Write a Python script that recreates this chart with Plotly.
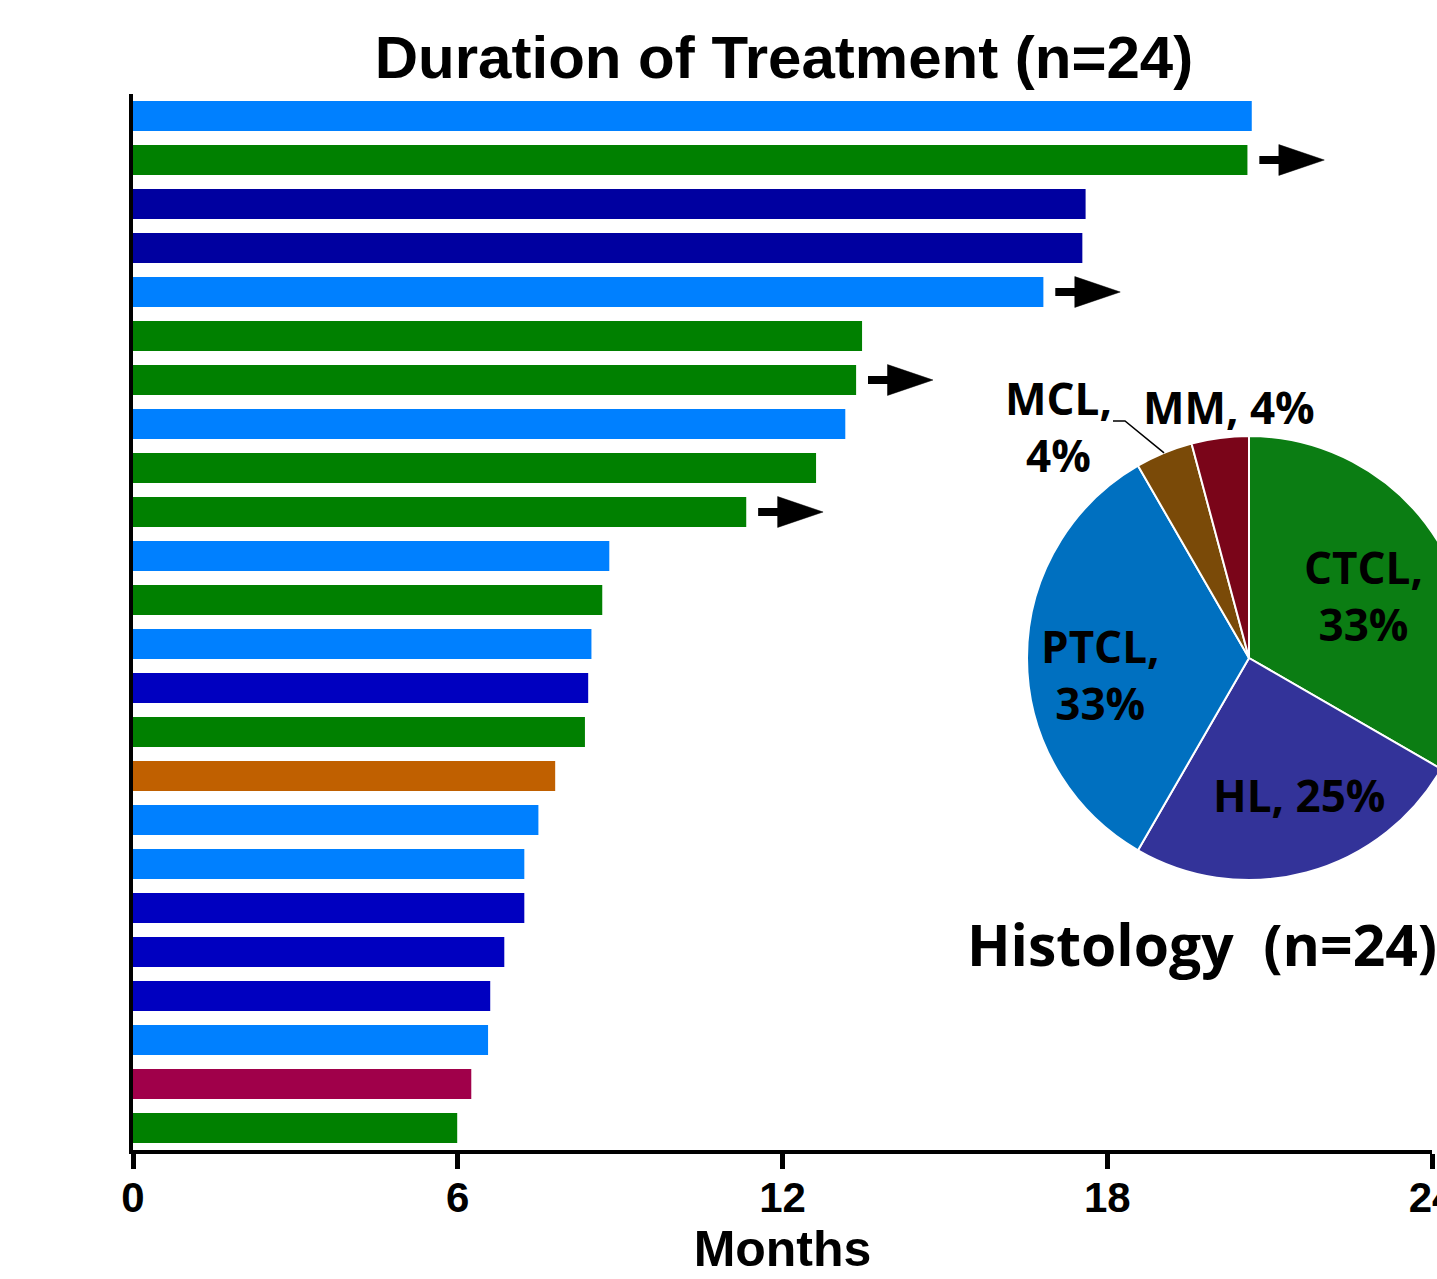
import math
import plotly.graph_objects as go

# ---------------- data ----------------
months = [20.67, 20.59, 17.60, 17.54, 16.82, 13.47, 13.36, 13.16, 12.62, 11.33,
          8.80, 8.67, 8.47, 8.41, 8.35, 7.80, 7.49, 7.23, 7.23, 6.86,
          6.60, 6.56, 6.25, 5.99]
histology = ["PTCL", "CTCL", "HL", "HL", "PTCL", "CTCL", "CTCL", "PTCL", "CTCL", "CTCL",
             "PTCL", "CTCL", "PTCL", "HL", "CTCL", "MCL", "PTCL", "PTCL", "HL", "HL",
             "HL", "PTCL", "MM", "CTCL"]
ongoing = [False, True, False, False, True, False, True, False, False, True,
           False, False, False, False, False, False, False, False, False, False,
           False, False, False, False]
bar_colors = ["#0080FF", "#008000", "#0000A0", "#0000A0", "#0080FF", "#008000", "#008000",
              "#0080FF", "#008000", "#008000", "#0080FF", "#008000", "#0080FF", "#0000C0",
              "#008000", "#C06000", "#0080FF", "#0080FF", "#0000C0", "#0000C0", "#0000C0",
              "#0080FF", "#A0004A", "#008000"]

pie_labels = ["CTCL", "HL", "PTCL", "MCL", "MM"]
pie_values = [8, 6, 8, 1, 1]
pie_colors = ["#0B7D13", "#333399", "#0070C0", "#7A4A08", "#7A0519"]
pie_pct = ["33%", "25%", "33%", "4%", "4%"]
pie_sep = ",<br>", ", ", ",<br>", ",<br>", ", "

x_ticks = [0, 6, 12, 18, 24]

# ---------------- layout constants ----------------
W, H = 1480, 1279
ML, MR, MT, MB = 133, 0, 94, 129
PW = W - ML - MR
PH = H - MT - MB
X_END_PX = 1432  # pixel where 24 months sits


def px_x(p):
    return (p - ML) / PW


def px_y(p):
    return (H - MB - p) / PH


idx = list(range(len(months)))

fig = go.Figure()

fig.add_trace(go.Bar(
    x=months, y=idx, orientation="h", width=0.68,
    marker=dict(color=bar_colors, line=dict(width=0)),
    customdata=histology, hovertemplate="%{customdata}: %{x} months<extra></extra>",
    showlegend=False,
))

shaft_x, shaft_y, head_x, head_y = [], [], [], []
for v, i, on in zip(months, idx, ongoing):
    if not on:
        continue
    shaft_x += [v + 0.22, v + 0.62, None]
    shaft_y += [i, i, None]
    head_x += [v + 0.58, v + 1.42, v + 0.58, v + 0.58, None]
    head_y += [i - 0.35, i, i + 0.35, i - 0.35, None]

fig.add_trace(go.Scatter(x=shaft_x, y=shaft_y, mode="lines",
                         line=dict(color="black", width=8), showlegend=False, hoverinfo="skip"))
fig.add_trace(go.Scatter(x=head_x, y=head_y, mode="lines", fill="toself",
                         fillcolor="black", line=dict(color="black", width=0.5),
                         showlegend=False, hoverinfo="skip"))

# ---------------- pie ----------------
PCX, PCY, PR = 1249, 658, 222
fig.add_trace(go.Pie(
    labels=pie_labels, values=pie_values, sort=False, direction="clockwise", rotation=0,
    marker=dict(colors=pie_colors, line=dict(color="white", width=2)),
    textinfo="none",
    domain=dict(x=[px_x(PCX - PR), px_x(PCX + PR)], y=[px_y(PCY + PR), px_y(PCY - PR)]),
    showlegend=False,
))

# label block centres in pixels
label_pos = [(1363, 595), (1299, 795), (1100, 674), (1058, 426), (1229, 407)]
annotations = []
for lab, sep, pct, (lx, ly) in zip(pie_labels, pie_sep, pie_pct, label_pos):
    annotations.append(dict(text=f"{lab}{sep}{pct}", xref="paper", yref="paper",
                            x=px_x(lx), y=px_y(ly), xanchor="center", yanchor="middle",
                            showarrow=False,
                            font=dict(family="Open Sans", size=44, color="black", weight="bold")))

# leader line for MCL, ending at the middle of the MCL slice edge
total = sum(pie_values)
start = sum(pie_values[:3]) / total * 360
mid = start + pie_values[3] / total * 360 / 2
ex = PCX + PR * math.sin(math.radians(mid))
ey = PCY - PR * math.cos(math.radians(mid))
leader = f"M {px_x(1113)},{px_y(421)} L {px_x(1125)},{px_y(421)} L {px_x(ex)},{px_y(ey)}"

annotations.append(dict(text="Histology&nbsp;&nbsp;(n=24)", xref="paper", yref="paper",
                        x=px_x(1202), y=px_y(944), xanchor="center", yanchor="middle",
                        showarrow=False,
                        font=dict(family="Open Sans", size=57, color="black", weight="bold")))

fig.update_layout(
    width=W, height=H,
    margin=dict(l=ML, r=MR, t=MT, b=MB, pad=0, autoexpand=False),
    plot_bgcolor="white", paper_bgcolor="white",
    showlegend=False,
    title=dict(text="Duration of Treatment (n=24)", x=784 / W, xanchor="center",
               y=1 - 57 / H, yanchor="middle", xref="container", yref="container",
               font=dict(family="Liberation Sans", size=60, color="black", weight="bold")),
    xaxis=dict(domain=[0, (X_END_PX - ML) / PW], range=[0, 24], tickvals=x_ticks,
               automargin=False,
               showline=True, linewidth=4, linecolor="black", mirror=False,
               ticks="outside", ticklen=15, tickwidth=5, tickcolor="black",
               ticklabelstandoff=-7,
               showgrid=False, zeroline=False,
               tickfont=dict(family="Liberation Sans", size=42, color="black", weight="bold"),
               title=dict(text="Months", standoff=4,
                          font=dict(family="Liberation Sans", size=50, color="black", weight="bold"))),
    yaxis=dict(range=[23.5, -0.5], showticklabels=False, showline=True, linewidth=4,
               automargin=False,
               linecolor="black", showgrid=False, zeroline=False, ticks=""),
    shapes=[dict(type="path", path=leader, xref="paper", yref="paper",
                 line=dict(color="black", width=1.5))],
    annotations=annotations,
)

fig.write_html("out.html", config={"displayModeBar": False},
               post_script="document.body.style.margin='0';document.body.style.overflow='hidden';")
